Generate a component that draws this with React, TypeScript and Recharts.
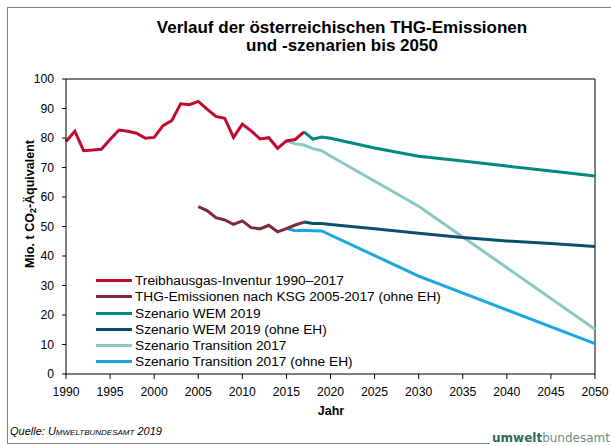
import { Line, LineChart, ReferenceLine, XAxis, YAxis } from "recharts";

const FONT = '"Liberation Sans", Arial, sans-serif';

const X_TICKS = [1990, 1995, 2000, 2005, 2010, 2015, 2020, 2025, 2030, 2035, 2040, 2045, 2050];
const Y_TICKS = [0, 10, 20, 30, 40, 50, 60, 70, 80, 90, 100];

const INVENTUR_YEARS = [
  1990, 1991, 1992, 1993, 1994, 1995, 1996, 1997, 1998, 1999, 2000, 2001, 2002, 2003,
  2004, 2005, 2006, 2007, 2008, 2009, 2010, 2011, 2012, 2013, 2014, 2015, 2016, 2017,
];
const INVENTUR = [
  78.8, 82.3, 75.7, 75.9, 76.2, 79.5, 82.7, 82.3, 81.6, 79.9, 80.2, 84.2, 85.9, 91.6,
  91.3, 92.4, 89.8, 87.3, 86.7, 80.2, 84.7, 82.4, 79.7, 80.1, 76.5, 79.0, 79.5, 82.1,
];

const KSG_YEARS = [2005, 2006, 2007, 2008, 2009, 2010, 2011, 2012, 2013, 2014, 2015, 2016, 2017];
const KSG = [56.7, 55.4, 53.0, 52.2, 50.7, 51.9, 49.6, 49.2, 50.4, 48.2, 49.3, 50.5, 51.5];

const WEM_YEARS = [2017, 2018, 2019, 2020, 2025, 2030, 2035, 2040, 2045, 2050];
const WEM = [82.1, 79.6, 80.3, 79.9, 76.6, 73.8, 72.2, 70.5, 68.8, 67.1];
const WEM_OHNE_EH = [51.5, 51.0, 51.0, 50.7, 49.2, 47.7, 46.3, 45.1, 44.2, 43.2];

const TRANS_YEARS = [2015, 2016, 2017, 2018, 2019, 2020, 2030, 2050];
const TRANS = [79.0, 78.0, 77.6, 76.4, 75.7, 73.9, 56.9, 15.2];

const TRANS_OHNE_YEARS = [2015, 2016, 2017, 2018, 2019, 2030, 2050];
const TRANS_OHNE_EH = [49.3, 48.6, 48.7, 48.6, 48.5, 33.2, 10.3];

const toPoints = (years: number[], values: number[]) =>
  years.map((year, i) => ({ year, value: values[i] }));

// legend order
const SERIES = [
  { name: "Treibhausgas-Inventur 1990–2017", color: "#C00A30", data: toPoints(INVENTUR_YEARS, INVENTUR) },
  { name: "THG-Emissionen nach KSG 2005-2017 (ohne EH)", color: "#7D2A3E", data: toPoints(KSG_YEARS, KSG) },
  { name: "Szenario WEM 2019", color: "#00897F", data: toPoints(WEM_YEARS, WEM) },
  { name: "Szenario WEM 2019 (ohne EH)", color: "#0B4F6C", data: toPoints(WEM_YEARS, WEM_OHNE_EH) },
  { name: "Szenario Transition 2017", color: "#8AC8C3", data: toPoints(TRANS_YEARS, TRANS) },
  { name: "Szenario Transition 2017 (ohne EH)", color: "#1AA7E0", data: toPoints(TRANS_OHNE_YEARS, TRANS_OHNE_EH) },
];

// scenarios drawn first so the history sits on top
const DRAW_ORDER = [5, 4, 3, 2, 1, 0];

function LegendBox() {
  return (
    <div
      style={{
        position: "absolute",
        left: 96,
        top: 272.6,
        fontFamily: FONT,
        fontSize: 13.7,
        color: "#000",
      }}
    >
      {SERIES.map((s) => (
        <div key={s.name} style={{ display: "flex", alignItems: "center", height: 16.25 }}>
          <span style={{ display: "inline-block", width: 36, height: 3, background: s.color }} />
          <span style={{ marginLeft: 3, whiteSpace: "nowrap" }}>{s.name}</span>
        </div>
      ))}
    </div>
  );
}

export default function App() {
  return (
    <div style={{ position: "absolute", left: 0, top: 0, width: 611, height: 446, background: "#fff", overflow: "hidden" }}>
      <div
        style={{
          position: "absolute",
          left: 7,
          top: 7,
          width: 640,
          height: 437,
          border: "1px solid #808080",
          boxSizing: "border-box",
        }}
      />
      <div
        style={{
          position: "absolute",
          left: 92,
          width: 500,
          top: 19,
          textAlign: "center",
          fontFamily: FONT,
          fontWeight: "bold",
          fontSize: 17,
          lineHeight: "18px",
          color: "#000",
        }}
      >
        Verlauf der österreichischen THG-Emissionen
        <br />
        und -szenarien bis 2050
      </div>

      <LineChart
        width={611}
        height={446}
        margin={{ top: 79, right: 16, bottom: 42, left: 0 }}
        style={{ position: "absolute", left: 0, top: 0 }}
      >
        <XAxis
          dataKey="year"
          type="number"
          domain={[1990, 2050]}
          ticks={X_TICKS}
          interval={0}
          allowDuplicatedCategory={false}
          height={30}
          tickSize={5}
          tickMargin={8}
          axisLine={{ stroke: "#000" }}
          tickLine={{ stroke: "#000" }}
          tick={{ fill: "#000", fontSize: 12.2, fontFamily: FONT }}
        />
        <YAxis
          type="number"
          domain={[0, 100]}
          ticks={Y_TICKS}
          interval={0}
          width={66}
          tickSize={4}
          tickMargin={8}
          axisLine={{ stroke: "#000" }}
          tickLine={{ stroke: "#000" }}
          tick={{ fill: "#000", fontSize: 12.2, fontFamily: FONT }}
        />
        <ReferenceLine y={100} stroke="#000" strokeWidth={1} ifOverflow="visible" />
        <ReferenceLine x={2050} stroke="#000" strokeWidth={1} ifOverflow="visible" />
        {DRAW_ORDER.map((i) => {
          const s = SERIES[i];
          return (
            <Line
              key={s.name}
              data={s.data}
              dataKey="value"
              name={s.name}
              type="linear"
              stroke={s.color}
              strokeWidth={3}
              dot={false}
              activeDot={false}
              isAnimationActive={false}
            />
          );
        })}
      </LineChart>

      <LegendBox />

      <div
        style={{
          position: "absolute",
          left: 30,
          top: 204,
          transform: "translate(-50%, -50%) rotate(-90deg)",
          whiteSpace: "nowrap",
          fontFamily: FONT,
          fontWeight: "bold",
          fontSize: 12.5,
          color: "#000",
        }}
      >
        Mio. t CO<sub style={{ fontSize: 9, verticalAlign: "-2px" }}>2</sub>-Äquivalent
      </div>

      <div
        style={{
          position: "absolute",
          left: 281,
          width: 100,
          top: 404,
          textAlign: "center",
          fontFamily: FONT,
          fontWeight: "bold",
          fontSize: 12.5,
          color: "#000",
        }}
      >
        Jahr
      </div>

      <div
        style={{
          position: "absolute",
          left: 10,
          top: 425,
          fontFamily: FONT,
          fontStyle: "italic",
          fontSize: 11,
          color: "#000",
        }}
      >
        Quelle: <span style={{ fontVariant: "small-caps" }}>Umweltbundesamt</span> 2019
      </div>

      <div
        style={{
          position: "absolute",
          left: 490,
          top: 431,
          padding: "0 2px",
          background: "#fff",
          fontFamily: '"DejaVu Sans", sans-serif',
          fontSize: 12,
          lineHeight: "15px",
          whiteSpace: "nowrap",
        }}
      >
        <span style={{ fontWeight: "bold", color: "#2D6B55" }}>umwelt</span>
        <span style={{ color: "#6F8E84" }}>bundesamt</span>
      </div>
    </div>
  );
}
